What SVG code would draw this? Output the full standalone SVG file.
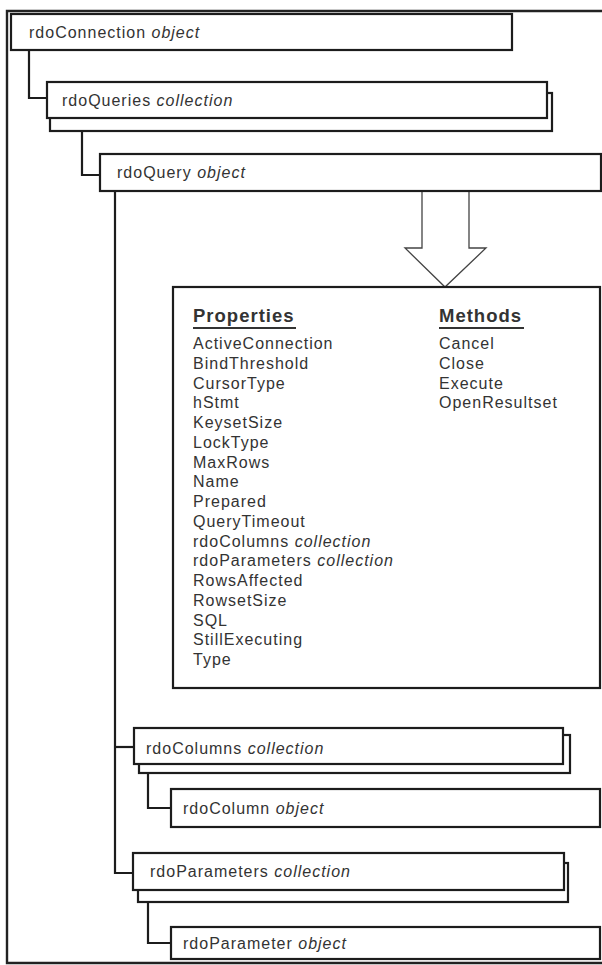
<svg xmlns="http://www.w3.org/2000/svg" width="602" height="965" viewBox="0 0 602 965">
<style>
.box{fill:#fff;stroke:#1c1c1c;stroke-width:2.2}
.con{fill:none;stroke:#1c1c1c;stroke-width:2.2}
.frame{fill:none;stroke:#222;stroke-width:2.4}
.arrow{fill:#fff;stroke:#444;stroke-width:1.3}
.lbl{font-family:"Liberation Sans",Arial,sans-serif;font-size:16px;letter-spacing:1px;fill:#333}
.it{font-style:italic}
.hd{font-family:"Liberation Sans",Arial,sans-serif;font-size:18.5px;font-weight:bold;letter-spacing:1px;fill:#333}
.ul{stroke:#333;stroke-width:2.2}
</style>
<rect width="602" height="965" fill="#fff"/>
<path class="frame" d="M602 11 H7 V963 H602"/>
<g id="connectors">
<path class="con" d="M29 50 V98 H47"/>
<path class="con" d="M82 118 V175 H100"/>
<path class="con" d="M115 191 V873 H133"/>
<path class="con" d="M115 747 H134"/>
<path class="con" d="M148 764 V808 H171"/>
<path class="con" d="M148 890 V943 H171"/>
<path class="arrow" d="M422 192 V248 H405 L445 287 L486 248 H469 V192"/>
</g>
<g id="rdoConnection">
<rect class="box" x="11" y="14" width="501" height="36"/>
<text class="lbl" x="29" y="38">rdoConnection <tspan class="it">object</tspan></text>
</g>
<g id="rdoQueries">
<rect class="box" x="50" y="93" width="502" height="38"/>
<rect class="box" x="47" y="82" width="500" height="36"/>
<text class="lbl" x="62" y="106">rdoQueries <tspan class="it">collection</tspan></text>
</g>
<g id="rdoQuery">
<rect class="box" x="100" y="154" width="501" height="37"/>
<text class="lbl" x="117" y="178">rdoQuery <tspan class="it">object</tspan></text>
</g>
<g id="members">
<rect class="box" x="173" y="287" width="427" height="401"/>
<text class="hd" x="193" y="322">Properties</text>
<line class="ul" x1="193" y1="328" x2="296" y2="328"/>
<text class="hd" x="439" y="322">Methods</text>
<line class="ul" x1="439" y1="328" x2="524" y2="328"/>
<g class="lbl">
<text x="193" y="349">ActiveConnection</text>
<text x="193" y="368.75">BindThreshold</text>
<text x="193" y="388.5">CursorType</text>
<text x="193" y="408.25">hStmt</text>
<text x="193" y="428">KeysetSize</text>
<text x="193" y="447.75">LockType</text>
<text x="193" y="467.5">MaxRows</text>
<text x="193" y="487.25">Name</text>
<text x="193" y="507">Prepared</text>
<text x="193" y="526.75">QueryTimeout</text>
<text x="193" y="546.5">rdoColumns <tspan class="it">collection</tspan></text>
<text x="193" y="566.25">rdoParameters <tspan class="it">collection</tspan></text>
<text x="193" y="586">RowsAffected</text>
<text x="193" y="605.75">RowsetSize</text>
<text x="193" y="625.5">SQL</text>
<text x="193" y="645.25">StillExecuting</text>
<text x="193" y="665">Type</text>
<text x="439" y="349">Cancel</text>
<text x="439" y="368.75">Close</text>
<text x="439" y="388.5">Execute</text>
<text x="439" y="408.25">OpenResultset</text>
</g>
</g>
<g id="rdoColumns">
<rect class="box" x="139" y="735" width="431" height="38"/>
<rect class="box" x="134" y="728" width="429" height="36"/>
<text class="lbl" x="146" y="754">rdoColumns <tspan class="it">collection</tspan></text>
</g>
<g id="rdoColumn">
<rect class="box" x="171" y="789" width="429" height="38"/>
<text class="lbl" x="183" y="814">rdoColumn <tspan class="it">object</tspan></text>
</g>
<g id="rdoParameters">
<rect class="box" x="138" y="863" width="430" height="39"/>
<rect class="box" x="133" y="853" width="431" height="37"/>
<text class="lbl" x="150" y="877">rdoParameters <tspan class="it">collection</tspan></text>
</g>
<g id="rdoParameter">
<rect class="box" x="171" y="927" width="429" height="32"/>
<text class="lbl" x="183" y="949">rdoParameter <tspan class="it">object</tspan></text>
</g>
</svg>
